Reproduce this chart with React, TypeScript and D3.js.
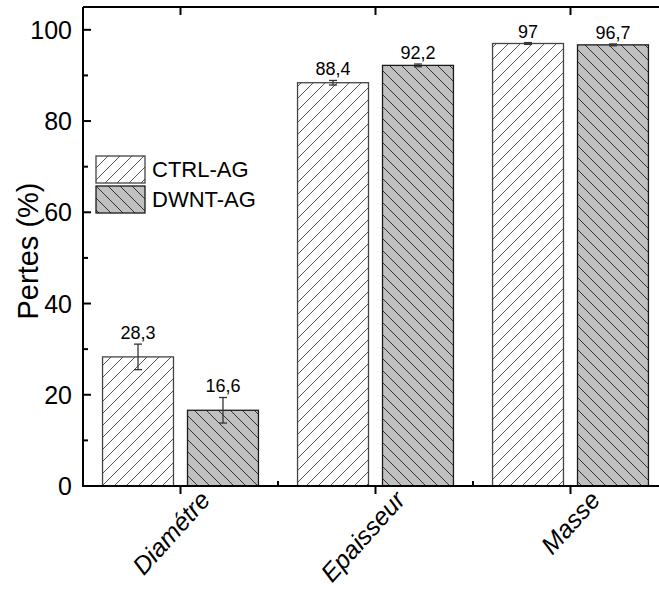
import React from "react";
import * as d3 from "d3";

const categories = ["Diamétre", "Epaisseur", "Masse"];
const series = ["CTRL-AG", "DWNT-AG"];
const ctrlValues = [28.3, 88.4, 97];
const dwntValues = [16.6, 92.2, 96.7];
const ctrlErrors = [2.8, 0.5, 0.2];
const dwntErrors = [2.8, 0.3, 0.2];
const valueLabelsCtrl = ["28,3", "88,4", "97"];
const valueLabelsDwnt = ["16,6", "92,2", "96,7"];
const yTicks = [0, 20, 40, 60, 80, 100];
const yMinorTicks = [10, 30, 50, 70, 90];

const W = 659;
const H = 591;
const FONT = "Arial, 'Liberation Sans', sans-serif";

export default function App() {
  const left = 83;
  const top = 7;
  const bottom = 486;
  const right = 668;

  const x = d3.scaleBand<string>().domain(categories).range([left, right]).padding(0);
  const xs = d3
    .scaleBand<string>()
    .domain(series)
    .range([0, x.step()])
    .paddingInner(0.165)
    .paddingOuter(0.23);
  const y = d3.scaleLinear().domain([0, 105]).range([bottom, top]);

  const data = series.map((s, si) => ({
    s,
    values: si === 0 ? ctrlValues : dwntValues,
    errors: si === 0 ? ctrlErrors : dwntErrors,
    labels: si === 0 ? valueLabelsCtrl : valueLabelsDwnt,
    fill: si === 0 ? "url(#hatchCtrl)" : "url(#hatchDwnt)",
    stroke: si === 0 ? "#444" : "#1a1a1a",
  }));

  const boundaries = categories.slice(1).map((c) => x(c)!);

  return (
    <svg width={W} height={H} style={{ display: "block", position: "absolute", left: 0, top: 0 }}>
      <defs>
        <pattern id="hatchCtrl" patternUnits="userSpaceOnUse" width={12} height={12}>
          <rect width={12} height={12} fill="#fff" />
          <path d="M0,12 L12,0 M-3,3 L3,-3 M9,15 L15,9" stroke="#555" strokeWidth={1} />
        </pattern>
        <pattern id="hatchDwnt" patternUnits="userSpaceOnUse" width={12} height={12}>
          <rect width={12} height={12} fill="#c0c0c0" />
          <path d="M0,0 L12,12 M-3,9 L3,15 M9,-3 L15,3" stroke="#333" strokeWidth={1} />
        </pattern>
      </defs>
      <rect width={W} height={H} fill="#fff" />

      {/* bars */}
      {data.map((d) =>
        categories.map((c, i) => {
          const bx = x(c)! + xs(d.s)!;
          const bw = xs.bandwidth();
          const v = d.values[i];
          const e = d.errors[i];
          const cx = bx + bw / 2;
          return (
            <g key={d.s + c}>
              <rect
                x={bx}
                y={y(v)}
                width={bw}
                height={bottom - y(v)}
                fill={d.fill}
                stroke={d.stroke}
                strokeWidth={1.3}
              />
              <line x1={cx} x2={cx} y1={y(v + e)} y2={y(v - e)} stroke="#333" strokeWidth={1.3} />
              <line x1={cx - 4} x2={cx + 4} y1={y(v + e)} y2={y(v + e)} stroke="#333" strokeWidth={1.3} />
              <line x1={cx - 4} x2={cx + 4} y1={y(v - e)} y2={y(v - e)} stroke="#333" strokeWidth={1.3} />
              <text
                x={cx}
                y={y(v + e) - 5}
                textAnchor="middle"
                fontFamily={FONT}
                fontSize={18}
                fill="#000"
              >
                {d.labels[i]}
              </text>
            </g>
          );
        })
      )}

      {/* axes */}
      <line x1={left} x2={W + 10} y1={top} y2={top} stroke="#000" strokeWidth={2} />
      <line x1={left} x2={left} y1={top} y2={bottom} stroke="#000" strokeWidth={2} />
      <line x1={left - 1} x2={W + 10} y1={bottom} y2={bottom} stroke="#000" strokeWidth={2} />

      {yTicks.map((t) => (
        <g key={"yt" + t}>
          <line x1={left} x2={left + 8} y1={y(t)} y2={y(t)} stroke="#000" strokeWidth={2} />
          <text
            x={72}
            y={y(t)}
            dy="0.36em"
            textAnchor="end"
            fontFamily={FONT}
            fontSize={25}
            fill="#000"
          >
            {t}
          </text>
        </g>
      ))}
      {yMinorTicks.map((t) => (
        <line key={"ym" + t} x1={left} x2={left + 5} y1={y(t)} y2={y(t)} stroke="#000" strokeWidth={2} />
      ))}

      {categories.map((c) => {
        const cx = x(c)! + x.bandwidth() / 2;
        return (
          <g key={"xt" + c}>
            <line x1={cx} x2={cx} y1={bottom} y2={bottom + 8} stroke="#000" strokeWidth={2} />
            <line x1={cx} x2={cx} y1={top} y2={top + 8} stroke="#000" strokeWidth={2} />
            <text
              transform={`translate(${cx + 31},${bottom + 15}) rotate(-48)`}
              textAnchor="end"
              fontFamily={FONT}
              fontStyle="italic"
              fontSize={25}
              fill="#000"
            >
              {c}
            </text>
          </g>
        );
      })}
      {boundaries.map((b, i) => (
        <line key={"xb" + i} x1={b} x2={b} y1={bottom} y2={bottom - 5} stroke="#000" strokeWidth={2} />
      ))}

      {/* y label */}
      <text
        transform={`translate(38,251) rotate(-90)`}
        textAnchor="middle"
        fontFamily={FONT}
        fontSize={29}
        fill="#000"
      >
        Pertes (%)
      </text>

      {/* legend */}
      {data.map((d, i) => (
        <g key={"lg" + d.s} transform={`translate(96,${156 + i * 30})`}>
          <rect x={0} y={0} width={49} height={27} fill={d.fill} stroke={d.stroke} strokeWidth={1.3} />
          <text x={56} y={21} fontFamily={FONT} fontSize={22} fill="#000">
            {d.s}
          </text>
        </g>
      ))}
    </svg>
  );
}
